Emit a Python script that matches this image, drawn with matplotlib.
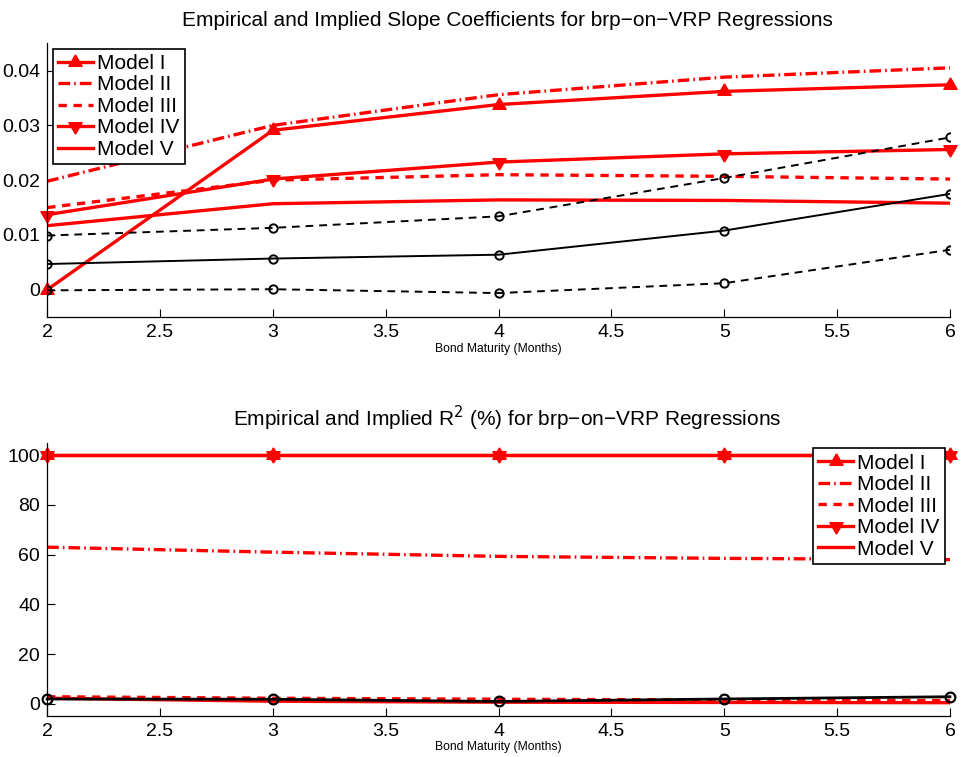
import numpy as np
import matplotlib.pyplot as plt

plt.rcParams['font.family'] = ['Liberation Sans', 'DejaVu Sans']

maturity = [2, 3, 4, 5, 6]

# slope coefficients
slope_m1 = [0.0000, 0.0291, 0.0338, 0.0362, 0.0374]
slope_m2 = [0.0198, 0.0300, 0.0356, 0.0388, 0.0405]
slope_m3 = [0.0150, 0.0200, 0.0210, 0.0207, 0.0202]
slope_m4 = [0.0137, 0.0202, 0.0233, 0.0248, 0.0256]
slope_m5 = [0.0117, 0.0157, 0.0164, 0.0163, 0.0158]
slope_emp = [0.0047, 0.0057, 0.0064, 0.0108, 0.0175]
slope_hi = [0.0099, 0.0113, 0.0134, 0.0204, 0.0278]
slope_lo = [-0.0001, 0.0001, -0.0006, 0.0012, 0.0073]

# R^2 (%)
r2_m1 = [100, 100, 100, 100, 100]
r2_m2 = [63.0, 61.0, 59.3, 58.5, 58.0]
r2_m3 = [2.8, 2.2, 1.8, 1.5, 1.3]
r2_m4 = [100, 100, 100, 100, 100]
r2_m5 = [2.2, 1.0, 0.6, 0.5, 0.4]
r2_emp = [1.9, 1.8, 0.9, 1.9, 2.8]

labels = ['Model I', 'Model II', 'Model III', 'Model IV', 'Model V']
red = '#ff0000'
lw = 2.4

# triangles centred on their centroid, like MATLAB's
tri_up = [(0, 1), (-0.866, -0.5), (0.866, -0.5), (0, 1)]
tri_dn = [(0, -1), (-0.866, 0.5), (0.866, 0.5), (0, -1)]


def style(ax):
    ax.spines['top'].set_visible(False)
    ax.spines['right'].set_visible(False)
    ax.spines['left'].set_linewidth(0.9)
    ax.spines['bottom'].set_linewidth(0.9)
    ax.tick_params(direction='in', length=6, width=0.8, labelsize=14, pad=5)
    ax.set_xlim(2, 6)
    ax.set_xticks(np.arange(2, 6.01, 0.5))
    ax.set_xticklabels(['2', '2.5', '3', '3.5', '4', '4.5', '5', '5.5', '6'])
    ax.set_xlabel('Bond Maturity (Months)', fontsize=8.7, labelpad=1)


def draw_models(ax, m1, m2, m3, m4, m5):
    ax.plot(maturity, m1, color=red, lw=lw, marker=tri_up, ms=11, label=labels[0], clip_on=False)
    ax.plot(maturity, m2, color=red, lw=lw, dashes=(3.5, 1.2, 0.5, 1.2), label=labels[1])
    ax.plot(maturity, m3, color=red, lw=lw, dashes=(2.5, 2.0), label=labels[2])
    ax.plot(maturity, m4, color=red, lw=lw, marker=tri_dn, ms=11, label=labels[3], clip_on=False)
    ax.plot(maturity, m5, color=red, lw=lw, label=labels[4])


def add_legend(ax, **kw):
    leg = ax.legend(fontsize=15, handlelength=1.7, handletextpad=0.2, labelspacing=0.12,
                    borderpad=0.25, borderaxespad=0, fancybox=False, framealpha=1,
                    edgecolor='black', **kw)
    leg.get_frame().set_linewidth(1.2)


fig = plt.figure(figsize=(9.62, 7.57), dpi=100)
ax1 = fig.add_axes([0.049, 0.581, 0.9385, 0.362])
ax2 = fig.add_axes([0.049, 0.054, 0.9385, 0.361])

# top panel
draw_models(ax1, slope_m1, slope_m2, slope_m3, slope_m4, slope_m5)
ax1.plot(maturity, slope_hi, color='black', lw=1.4, dashes=(4, 3), marker='o', ms=6,
         mfc='none', mew=1.4)
ax1.plot(maturity, slope_emp, color='black', lw=1.4, marker='o', ms=6, mfc='none', mew=1.4)
ax1.plot(maturity, slope_lo, color='black', lw=1.4, dashes=(4, 3), marker='o', ms=6,
         mfc='none', mew=1.4)
style(ax1)
ax1.set_ylim(-0.005, 0.045)
ax1.set_yticks([0, 0.01, 0.02, 0.03, 0.04])
ax1.set_yticklabels(['0', '0.01', '0.02', '0.03', '0.04'])
ax1.set_title('Empirical and Implied Slope Coefficients for brp\u2212on\u2212VRP Regressions',
              fontsize=15, pad=12, x=0.51)
add_legend(ax1, loc='upper left', bbox_to_anchor=(0.006, 0.98))

# bottom panel
draw_models(ax2, r2_m1, r2_m2, r2_m3, r2_m4, r2_m5)
ax2.plot(maturity, r2_emp, color='black', lw=2.0, marker='o', ms=7, mfc='none', mew=1.6,
         clip_on=False)
style(ax2)
ax2.set_ylim(-5, 105)
ax2.set_yticks([0, 20, 40, 60, 80, 100])
ax2.set_title('Empirical and Implied R$^2$ (%) for brp\u2212on\u2212VRP Regressions',
              fontsize=15, pad=12, x=0.51)
add_legend(ax2, loc='upper right', bbox_to_anchor=(0.9945, 0.98))

fig.savefig('out.png', dpi=100)
